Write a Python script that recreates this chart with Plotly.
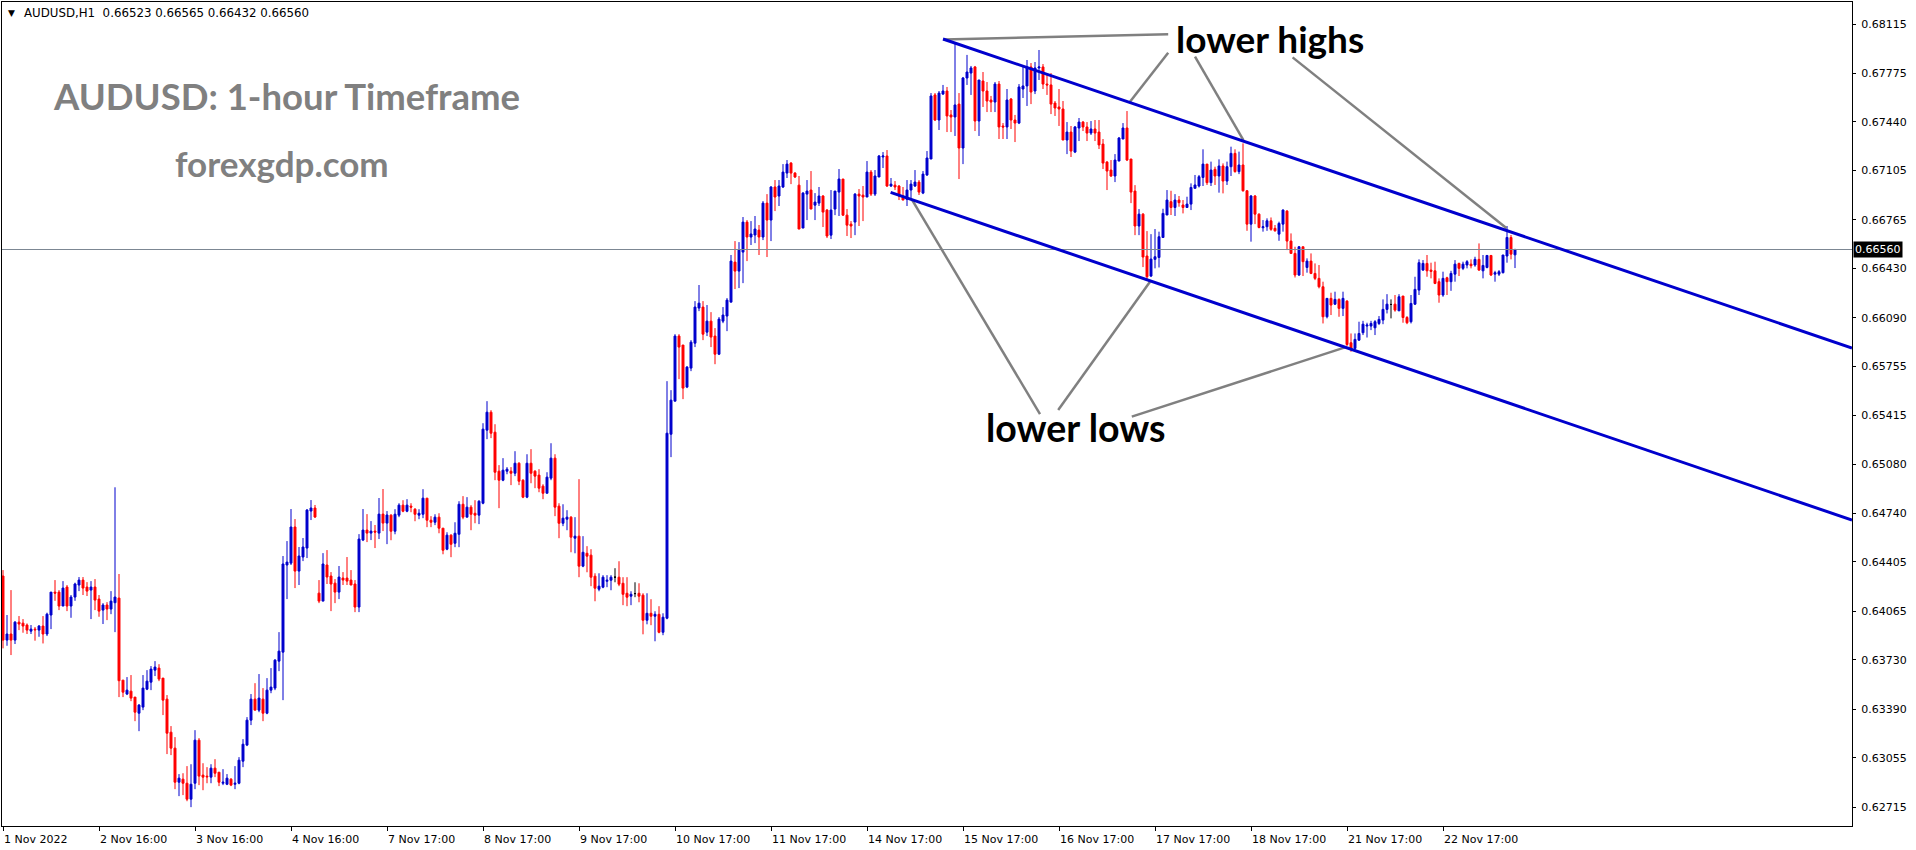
import plotly.graph_objects as go

# ---------------- data ----------------
symbol_line = "AUDUSD,H1  0.66523 0.66565 0.66432 0.66560"
title_text = "AUDUSD: 1-hour Timeframe"
site_text = "forexgdp.com"

opens = [
    0.64308,0.63866,0.63908,0.63866,0.63990,0.63983,0.63970,0.63928,0.63942,0.63935,
    0.63963,0.63908,0.64039,0.64197,0.64197,0.64101,0.64232,0.64101,0.64163,0.64246,
    0.64280,0.64232,0.64211,0.64232,0.64149,0.64073,0.64108,0.64080,0.64124,0.64156,
    0.63590,0.63494,0.63514,0.63473,0.63362,0.63404,0.63528,0.63576,0.63659,0.63673,
    0.63604,0.63459,0.63231,0.63121,0.62886,0.62907,0.62879,0.62769,0.62879,0.63176,
    0.62935,0.62928,0.62921,0.62983,0.62955,0.62879,0.62872,0.62907,0.62872,0.62879,
    0.63031,0.63142,0.63314,0.63459,0.63383,0.63459,0.63362,0.63521,0.63535,0.63721,
    0.63783,0.64384,0.64397,0.64646,0.64342,0.64439,0.64501,0.64756,0.64777,0.64190,
    0.64135,0.64384,0.64308,0.64259,0.64197,0.64294,0.64294,0.64280,0.64253,0.64094,
    0.64556,0.64625,0.64604,0.64618,0.64604,0.64735,0.64673,0.64728,0.64617,0.64728,
    0.64797,0.64755,0.64790,0.64769,0.64728,0.64734,0.64845,0.64693,0.64679,0.64714,
    0.64638,0.64493,0.64590,0.64534,0.64596,0.64803,0.64714,0.64783,0.64741,0.64728,
    0.64810,0.65314,0.65438,0.65300,0.65031,0.64969,0.65031,0.65031,0.65017,0.65086,
    0.64969,0.64852,0.65086,0.65031,0.65004,0.64928,0.64879,0.64983,0.65121,0.64790,
    0.64672,0.64700,0.64714,0.64569,0.64583,0.64376,0.64465,0.64452,0.64307,0.64217,
    0.64231,0.64272,0.64279,0.64300,0.64300,0.64258,0.64189,0.64169,0.64187,0.64189,
    0.64176,0.64003,0.64051,0.64031,0.64044,0.63920,0.64017,0.65286,0.65514,0.65963,
    0.65901,0.65611,0.65742,0.65914,0.66156,0.66163,0.65990,0.66066,0.65963,0.65838,
    0.66066,0.66101,0.66197,0.66473,0.66411,0.66542,0.66749,0.66646,0.66660,0.66694,
    0.66646,0.66880,0.66763,0.66991,0.66929,0.66991,0.67087,0.67156,0.67087,0.67004,
    0.66708,0.66942,0.66970,0.66866,0.66880,0.66929,0.66832,0.66659,0.66839,0.66956,
    0.67046,0.66797,0.66735,0.66749,0.66942,0.66935,0.66922,0.67094,0.66942,0.67060,
    0.67198,0.67205,0.66998,0.67004,0.66998,0.66929,0.66906,0.66970,0.66998,0.67025,
    0.66949,0.67074,0.67184,0.67626,0.67453,0.67632,0.67653,0.67488,0.67474,0.67563,
    0.67260,0.67743,0.67777,0.67819,0.67446,0.67722,0.67653,0.67591,0.67577,0.67701,
    0.67412,0.67405,0.67598,0.67453,0.67432,0.67667,0.67688,0.67819,0.67653,0.67812,
    0.67819,0.67701,0.67695,0.67570,0.67543,0.67529,0.67315,0.67370,0.67232,0.67398,
    0.67439,0.67405,0.67363,0.67391,0.67370,0.67287,0.67163,0.67108,0.67067,0.67170,
    0.67322,0.67398,0.67184,0.66963,0.66722,0.66804,0.66515,0.66377,0.66492,0.66505,
    0.66643,0.66798,0.66890,0.66850,0.66901,0.66867,0.66850,0.66873,0.66982,0.66998,
    0.67057,0.67149,0.67021,0.67113,0.67067,0.67136,0.67032,0.67131,0.67223,0.67097,
    0.67143,0.66965,0.66735,0.66929,0.66804,0.66710,0.66717,0.66758,0.66706,0.66666,
    0.66735,0.66825,0.66618,0.66533,0.66384,0.66579,0.66436,0.66480,0.66395,0.66361,
    0.66303,0.66096,0.66223,0.66183,0.66216,0.66154,0.66204,0.65917,0.65878,0.65935,
    0.65986,0.66032,0.66032,0.66020,0.66050,0.66073,0.66147,0.66181,0.66183,0.66137,
    0.66239,0.66091,0.66062,0.66183,0.66280,0.66418,0.66464,0.66418,0.66413,0.66338,
    0.66246,0.66365,0.66338,0.66390,0.66464,0.66430,0.66453,0.66459,0.66453,0.66492,
    0.66413,0.66436,0.66519,0.66390,0.66390,0.66400,0.66515,0.66643,0.66523,
]

highs = [
    0.64349,0.64039,0.64211,0.63997,0.64032,0.64011,0.63981,0.63970,0.63956,0.63970,
    0.64032,0.64055,0.64197,0.64280,0.64211,0.64273,0.64246,0.64177,0.64262,0.64301,
    0.64301,0.64266,0.64273,0.64287,0.64177,0.64121,0.64128,0.64204,0.64920,0.64322,
    0.63590,0.63611,0.63625,0.63473,0.63425,0.63625,0.63659,0.63687,0.63721,0.63700,
    0.63604,0.63487,0.63273,0.63197,0.62942,0.62948,0.62997,0.63010,0.63245,0.63190,
    0.63017,0.62990,0.63010,0.63045,0.62955,0.62976,0.62942,0.62914,0.62997,0.63059,
    0.63183,0.63335,0.63494,0.63569,0.63632,0.63535,0.63604,0.63673,0.63735,0.63921,
    0.64446,0.64549,0.64770,0.64701,0.64508,0.64570,0.64770,0.64832,0.64798,0.64280,
    0.64466,0.64487,0.64335,0.64287,0.64377,0.64335,0.64439,0.64349,0.64280,0.64597,
    0.64770,0.64735,0.64687,0.64660,0.64846,0.64908,0.64756,0.64734,0.64769,0.64810,
    0.64831,0.64838,0.64810,0.64776,0.64769,0.64907,0.64845,0.64721,0.64734,0.64741,
    0.64638,0.64610,0.64596,0.64679,0.64824,0.64859,0.64852,0.64797,0.64831,0.64831,
    0.65362,0.65514,0.65452,0.65355,0.65073,0.65121,0.65059,0.65059,0.65169,0.65093,
    0.64976,0.65148,0.65183,0.65038,0.65045,0.64941,0.65024,0.65224,0.65148,0.64810,
    0.64803,0.64762,0.64721,0.64714,0.64976,0.64583,0.64514,0.64493,0.64327,0.64327,
    0.64314,0.64314,0.64314,0.64362,0.64410,0.64300,0.64300,0.64203,0.64265,0.64258,
    0.64189,0.64189,0.64148,0.64065,0.64100,0.64051,0.65652,0.65590,0.65976,0.65976,
    0.65901,0.65756,0.65935,0.66204,0.66315,0.66204,0.66177,0.66128,0.66018,0.66094,
    0.66163,0.66225,0.66522,0.66618,0.66611,0.66784,0.66763,0.66756,0.66791,0.66729,
    0.66894,0.66942,0.66997,0.67039,0.67039,0.67149,0.67177,0.67163,0.67094,0.67067,
    0.66956,0.67039,0.67101,0.66949,0.66991,0.66935,0.66839,0.66970,0.66963,0.67115,
    0.67046,0.66839,0.66756,0.66949,0.66977,0.66998,0.67170,0.67108,0.67108,0.67212,
    0.67232,0.67246,0.67053,0.67032,0.67004,0.66991,0.67039,0.67039,0.67108,0.67039,
    0.67101,0.67239,0.67639,0.67639,0.67653,0.67695,0.67681,0.67522,0.67984,0.67639,
    0.67750,0.67902,0.67826,0.67826,0.67729,0.67784,0.67715,0.67619,0.67715,0.67722,
    0.67432,0.67667,0.67605,0.67488,0.67701,0.67832,0.67867,0.67846,0.67853,0.67936,
    0.67839,0.67770,0.67777,0.67584,0.67667,0.67584,0.67439,0.67412,0.67412,0.67467,
    0.67446,0.67439,0.67446,0.67453,0.67453,0.67322,0.67170,0.67177,0.67218,0.67336,
    0.67432,0.67515,0.67184,0.67004,0.66839,0.66811,0.66687,0.66666,0.66701,0.66683,
    0.66841,0.66970,0.66965,0.66942,0.66929,0.66901,0.66924,0.67016,0.67074,0.67074,
    0.67251,0.67149,0.67166,0.67131,0.67182,0.67154,0.67166,0.67269,0.67251,0.67235,
    0.67292,0.66970,0.66936,0.66936,0.66809,0.66763,0.66775,0.66781,0.66729,0.66752,
    0.66837,0.66832,0.66671,0.66579,0.66584,0.66579,0.66499,0.66533,0.66464,0.66453,
    0.66338,0.66223,0.66262,0.66269,0.66223,0.66269,0.66211,0.65981,0.65981,0.66062,
    0.66068,0.66055,0.66068,0.66073,0.66101,0.66216,0.66252,0.66216,0.66246,0.66252,
    0.66239,0.66101,0.66246,0.66372,0.66492,0.66487,0.66522,0.66469,0.66476,0.66361,
    0.66407,0.66372,0.66413,0.66487,0.66469,0.66476,0.66487,0.66492,0.66510,0.66602,
    0.66522,0.66522,0.66522,0.66413,0.66418,0.66522,0.66722,0.66660,0.66565,
]

lows = [
    0.63809,0.63827,0.63763,0.63839,0.63935,0.63917,0.63908,0.63908,0.63862,0.63889,
    0.63843,0.63894,0.63942,0.64137,0.64073,0.64101,0.64066,0.64020,0.64137,0.64204,
    0.64177,0.64170,0.64011,0.64073,0.64027,0.63977,0.64004,0.64045,0.63921,0.63473,
    0.63473,0.63487,0.63445,0.63307,0.63238,0.63383,0.63521,0.63521,0.63618,0.63583,
    0.63349,0.63080,0.63073,0.62838,0.62790,0.62797,0.62755,0.62714,0.62838,0.62866,
    0.62831,0.62879,0.62879,0.62921,0.62859,0.62866,0.62866,0.62859,0.62838,0.62872,
    0.62990,0.63135,0.63280,0.63383,0.63369,0.63307,0.63355,0.63500,0.63521,0.63652,
    0.63452,0.64149,0.64384,0.64225,0.64246,0.64411,0.64432,0.64694,0.64708,0.64121,
    0.64135,0.64253,0.64066,0.64121,0.64149,0.64246,0.64246,0.64246,0.64059,0.64059,
    0.64549,0.64542,0.64556,0.64501,0.64563,0.64618,0.64528,0.64555,0.64596,0.64714,
    0.64748,0.64748,0.64748,0.64686,0.64700,0.64707,0.64645,0.64645,0.64659,0.64603,
    0.64458,0.64486,0.64438,0.64507,0.64507,0.64700,0.64714,0.64624,0.64672,0.64666,
    0.64803,0.65252,0.65259,0.64969,0.64776,0.64962,0.65010,0.64935,0.64997,0.64935,
    0.64845,0.64845,0.64948,0.64914,0.64886,0.64838,0.64879,0.64969,0.64721,0.64569,
    0.64652,0.64624,0.64472,0.64465,0.64300,0.64369,0.64334,0.64238,0.64134,0.64203,
    0.64224,0.64231,0.64210,0.64265,0.64238,0.64107,0.64100,0.64107,0.64162,0.64127,
    0.63906,0.63975,0.63969,0.63858,0.63913,0.63900,0.64010,0.65128,0.65514,0.65666,
    0.65528,0.65604,0.65721,0.65887,0.66135,0.65935,0.65963,0.65887,0.65769,0.65832,
    0.66052,0.65997,0.66197,0.66287,0.66294,0.66328,0.66480,0.66591,0.66604,0.66522,
    0.66625,0.66508,0.66618,0.66825,0.66860,0.66984,0.67053,0.67011,0.67053,0.66701,
    0.66708,0.66763,0.66839,0.66763,0.66860,0.66715,0.66639,0.66632,0.66797,0.66791,
    0.66791,0.66653,0.66639,0.66659,0.66722,0.66756,0.66922,0.66929,0.66929,0.67060,
    0.67122,0.66991,0.66991,0.66970,0.66901,0.66901,0.66860,0.66915,0.66991,0.66936,
    0.66942,0.67067,0.67184,0.67446,0.67384,0.67626,0.67370,0.67370,0.67343,0.67046,
    0.67149,0.67695,0.67626,0.67377,0.67343,0.67543,0.67508,0.67508,0.67508,0.67322,
    0.67322,0.67322,0.67391,0.67301,0.67425,0.67605,0.67550,0.67563,0.67632,0.67729,
    0.67667,0.67626,0.67494,0.67481,0.67412,0.67315,0.67218,0.67198,0.67225,0.67308,
    0.67377,0.67308,0.67350,0.67308,0.67253,0.67115,0.66970,0.67060,0.67025,0.67170,
    0.67322,0.67170,0.66880,0.66659,0.66659,0.66439,0.66349,0.66370,0.66430,0.66436,
    0.66643,0.66798,0.66798,0.66791,0.66855,0.66809,0.66850,0.66832,0.66982,0.66988,
    0.66998,0.67005,0.66998,0.67005,0.66952,0.66947,0.67005,0.67067,0.67090,0.67080,
    0.66959,0.66689,0.66614,0.66735,0.66706,0.66683,0.66689,0.66689,0.66683,0.66620,
    0.66683,0.66556,0.66533,0.66367,0.66377,0.66377,0.66400,0.66390,0.66349,0.66292,
    0.66050,0.66085,0.66108,0.66177,0.66096,0.66101,0.65894,0.65855,0.65866,0.65930,
    0.65970,0.65953,0.66004,0.65970,0.66039,0.66045,0.66119,0.66085,0.66131,0.66137,
    0.66055,0.66045,0.66050,0.66177,0.66246,0.66413,0.66372,0.66361,0.66321,0.66193,
    0.66234,0.66246,0.66275,0.66338,0.66377,0.66418,0.66430,0.66430,0.66441,0.66413,
    0.66361,0.66430,0.66377,0.66338,0.66377,0.66395,0.66469,0.66492,0.66432,
]

closes = [
    0.63866,0.63908,0.63866,0.63990,0.63977,0.63963,0.63935,0.63942,0.63937,0.63963,
    0.63908,0.64045,0.64197,0.64190,0.64101,0.64225,0.64101,0.64163,0.64253,0.64280,
    0.64225,0.64204,0.64232,0.64142,0.64066,0.64108,0.64080,0.64135,0.64163,0.63586,
    0.63507,0.63521,0.63466,0.63369,0.63418,0.63535,0.63583,0.63666,0.63680,0.63597,
    0.63452,0.63224,0.63121,0.62886,0.62914,0.62879,0.62769,0.62872,0.63176,0.62928,
    0.62921,0.62923,0.62983,0.62948,0.62886,0.62886,0.62914,0.62866,0.62879,0.63038,
    0.63148,0.63314,0.63459,0.63383,0.63466,0.63362,0.63521,0.63542,0.63728,0.63790,
    0.64391,0.64404,0.64646,0.64342,0.64446,0.64508,0.64763,0.64777,0.64715,0.64135,
    0.64391,0.64301,0.64253,0.64197,0.64301,0.64280,0.64273,0.64246,0.64094,0.64563,
    0.64625,0.64604,0.64618,0.64611,0.64735,0.64673,0.64729,0.64617,0.64734,0.64797,
    0.64755,0.64797,0.64783,0.64734,0.64741,0.64845,0.64693,0.64679,0.64714,0.64638,
    0.64486,0.64590,0.64527,0.64603,0.64803,0.64714,0.64783,0.64734,0.64728,0.64824,
    0.65321,0.65438,0.65293,0.65024,0.64969,0.65038,0.65045,0.65017,0.65086,0.64962,
    0.64852,0.65086,0.65017,0.64997,0.64914,0.64879,0.64990,0.65121,0.64783,0.64672,
    0.64707,0.64714,0.64576,0.64583,0.64376,0.64472,0.64445,0.64300,0.64224,0.64238,
    0.64300,0.64279,0.64300,0.64300,0.64252,0.64182,0.64162,0.64182,0.64187,0.64169,
    0.64003,0.64051,0.64031,0.64044,0.63920,0.64024,0.65293,0.65521,0.65963,0.65887,
    0.65604,0.65749,0.65921,0.66163,0.66190,0.65976,0.66066,0.65956,0.65838,0.66080,
    0.66108,0.66211,0.66480,0.66411,0.66556,0.66749,0.66646,0.66667,0.66701,0.66646,
    0.66880,0.66763,0.66991,0.66922,0.66998,0.67094,0.67149,0.67087,0.67060,0.66701,
    0.66949,0.66963,0.66839,0.66887,0.66929,0.66818,0.66653,0.66832,0.66963,0.67046,
    0.66797,0.66728,0.66722,0.66942,0.66929,0.66922,0.67094,0.66942,0.67067,0.67205,
    0.67205,0.66998,0.67011,0.66991,0.66929,0.66901,0.66970,0.67011,0.67025,0.66956,
    0.67080,0.67191,0.67619,0.67453,0.67639,0.67653,0.67481,0.67474,0.67557,0.67260,
    0.67743,0.67784,0.67812,0.67446,0.67729,0.67653,0.67584,0.67577,0.67701,0.67405,
    0.67405,0.67591,0.67453,0.67432,0.67681,0.67688,0.67819,0.67646,0.67812,0.67819,
    0.67701,0.67695,0.67563,0.67536,0.67529,0.67315,0.67370,0.67239,0.67405,0.67439,
    0.67405,0.67363,0.67391,0.67363,0.67281,0.67156,0.67101,0.67067,0.67177,0.67329,
    0.67398,0.67177,0.66956,0.66722,0.66804,0.66508,0.66372,0.66494,0.66510,0.66648,
    0.66809,0.66901,0.66850,0.66901,0.66883,0.66850,0.66873,0.66988,0.67005,0.67062,
    0.67149,0.67021,0.67108,0.67067,0.67136,0.67032,0.67131,0.67223,0.67097,0.67143,
    0.66965,0.66735,0.66929,0.66804,0.66712,0.66717,0.66758,0.66699,0.66689,0.66740,
    0.66832,0.66618,0.66533,0.66384,0.66579,0.66476,0.66480,0.66395,0.66361,0.66303,
    0.66096,0.66223,0.66177,0.66216,0.66154,0.66223,0.65905,0.65878,0.65940,0.65981,
    0.66045,0.66039,0.66050,0.66062,0.66078,0.66147,0.66183,0.66181,0.66142,0.66234,
    0.66091,0.66055,0.66188,0.66285,0.66469,0.66464,0.66413,0.66409,0.66326,0.66246,
    0.66361,0.66338,0.66395,0.66459,0.66430,0.66459,0.66476,0.66448,0.66492,0.66418,
    0.66450,0.66519,0.66384,0.66400,0.66407,0.66522,0.66643,0.66528,0.66560,
]

# x axis: bar index of each date label, and the label text
x_tick_bars = [0, 24, 48, 72, 96, 120, 144, 168, 192, 216, 240, 264, 288, 312, 336, 360]
x_tick_labels = ["1 Nov 2022", "2 Nov 16:00", "3 Nov 16:00", "4 Nov 16:00", "7 Nov 17:00",
                 "8 Nov 17:00", "9 Nov 17:00", "10 Nov 17:00", "11 Nov 17:00", "14 Nov 17:00",
                 "15 Nov 17:00", "16 Nov 17:00", "17 Nov 17:00", "18 Nov 17:00", "21 Nov 17:00",
                 "22 Nov 17:00"]

# y axis: price labels
y_tick_labels = ["0.68115", "0.67775", "0.67440", "0.67105", "0.66765", "0.66430", "0.66090",
                 "0.65755", "0.65415", "0.65080", "0.64740", "0.64405", "0.64065", "0.63730",
                 "0.63390", "0.63055", "0.62715"]
y_tick_values = [float(t) for t in y_tick_labels]
bid_price = 0.66560

# visible window (bar index, price)
x_window = [-0.25, 462.25]
y_window = [0.62584, 0.68267]

# channel trend lines: (bar, price) anchors
upper_channel = [(235.0, 0.68012), (462.25, 0.65881)]
lower_channel = [(221.9, 0.66954), (462.25, 0.64694)]

# grey pointer lines of the labels: ((bar, price), (bar, price))
high_pointers = [((235.1, 0.68009), (291.3, 0.68044)),
                 ((291.3, 0.67917), (281.75, 0.67579)),
                 ((298.0, 0.67890), (310.1, 0.67315)),
                 ((322.4, 0.67885), (375.9, 0.66706))]
low_pointers = [((227.2, 0.66906), (259.25, 0.65425)),
                ((286.75, 0.66338), (263.8, 0.65453)),
                ((282.2, 0.65407), (335.5, 0.65885))]
label_highs = ("lower highs", 316.75, 0.68018)
label_lows = ("lower lows", 268.25, 0.65329)

# ---------------- figure ----------------
BLUE = "#0000CD"
RED = "#FF0000"
GREY = "#808080"
AXFONT = dict(family="DejaVu Sans", size=11, color="black")

bars = list(range(len(closes)))
normal = [i for i in bars if opens[i] != closes[i]]
doji = [i for i in bars if opens[i] == closes[i]]


def pick(seq, idx):
    return [seq[i] for i in idx]


fig = go.Figure()
fig.add_trace(go.Candlestick(
    x=normal, open=pick(opens, normal), high=pick(highs, normal),
    low=pick(lows, normal), close=pick(closes, normal),
    increasing=dict(line=dict(color=BLUE, width=1), fillcolor=BLUE),
    decreasing=dict(line=dict(color=RED, width=1), fillcolor=RED),
    whiskerwidth=0, showlegend=False, hoverinfo="skip"))
fig.add_trace(go.Candlestick(
    x=doji, open=pick(opens, doji), high=pick(highs, doji),
    low=pick(lows, doji), close=pick(closes, doji),
    increasing=dict(line=dict(color="black", width=1), fillcolor="black"),
    decreasing=dict(line=dict(color="black", width=1), fillcolor="black"),
    whiskerwidth=0, showlegend=False, hoverinfo="skip"))

shapes = []
# bid line
shapes.append(dict(type="line", xref="paper", yref="y", x0=0, x1=1, y0=bid_price, y1=bid_price,
                   line=dict(color="#7C8793", width=1)))
for (xa, ya), (xb, yb) in high_pointers + low_pointers:
    shapes.append(dict(type="line", xref="x", yref="y", x0=xa, y0=ya, x1=xb, y1=yb,
                       line=dict(color=GREY, width=2.5)))
for ch in (upper_channel, lower_channel):
    (xa, ya), (xb, yb) = ch
    shapes.append(dict(type="line", xref="x", yref="y", x0=xa, y0=ya, x1=xb, y1=yb,
                       line=dict(color=BLUE, width=3)))

annotations = [
    dict(text="\u25BC", xref="paper", yref="paper", x=0.0022, y=0.9872, xanchor="left",
         yanchor="middle", showarrow=False, font=dict(family="DejaVu Sans", size=9, color="black")),
    dict(text=symbol_line.replace(" ", "&nbsp;"), xref="paper", yref="paper", x=0.0106, y=0.9867,
         xanchor="left", yanchor="middle", showarrow=False,
         font=dict(family="DejaVu Sans", size=11.8, color="black")),
    dict(text="<b>" + title_text + "</b>", xref="paper", yref="paper", x=0.0265, y=0.8859,
         xanchor="left", yanchor="middle", showarrow=False,
         font=dict(family="Lato", size=36.5, color=GREY)),
    dict(text="<b>" + site_text + "</b>", xref="paper", yref="paper", x=0.0924, y=0.8046,
         xanchor="left", yanchor="middle", showarrow=False,
         font=dict(family="Lato", size=35, color=GREY)),
    dict(text="<b>" + label_highs[0] + "</b>", xref="x", yref="y", x=label_highs[1], y=label_highs[2],
         xanchor="center", yanchor="middle", showarrow=False,
         font=dict(family="Lato", size=37, color="black")),
    dict(text="<b>" + label_lows[0] + "</b>", xref="x", yref="y", x=label_lows[1], y=label_lows[2],
         xanchor="center", yanchor="middle", showarrow=False,
         font=dict(family="Lato", size=37.5, color="black")),
    dict(text=f"{bid_price:.5f}", xref="paper", yref="y", x=1, y=bid_price, xanchor="left",
         yanchor="middle", xshift=1, showarrow=False, bgcolor="black", borderpad=1,
         font=dict(family="DejaVu Sans", size=11, color="white")),
]

fig.update_layout(
    width=1916, height=850,
    margin=dict(l=2, r=64, t=2, b=24, pad=0),
    paper_bgcolor="white", plot_bgcolor="white",
    showlegend=False,
    shapes=shapes, annotations=annotations,
    xaxis=dict(range=x_window, tickmode="array", tickvals=x_tick_bars, ticktext=x_tick_labels,
               ticks="outside", ticklen=4, tickcolor="black", tickwidth=1,
               ticklabelposition="outside right", ticklabelstandoff=3, tickfont=AXFONT,
               showline=True, linecolor="black", linewidth=1, mirror=True,
               showgrid=False, zeroline=False, rangeslider=dict(visible=False), fixedrange=True),
    yaxis=dict(range=y_window, side="right", tickmode="array", tickvals=y_tick_values,
               ticktext=y_tick_labels, ticks="outside", ticklen=3, tickcolor="black", tickwidth=1,
               ticklabelstandoff=3, tickfont=AXFONT, showline=True, linecolor="black",
               linewidth=1, mirror=True, showgrid=False, zeroline=False, fixedrange=True),
)

fig.write_html("out.html", config={"displayModeBar": False},
               post_script="document.body.style.margin='0';document.body.style.overflow='hidden';")
